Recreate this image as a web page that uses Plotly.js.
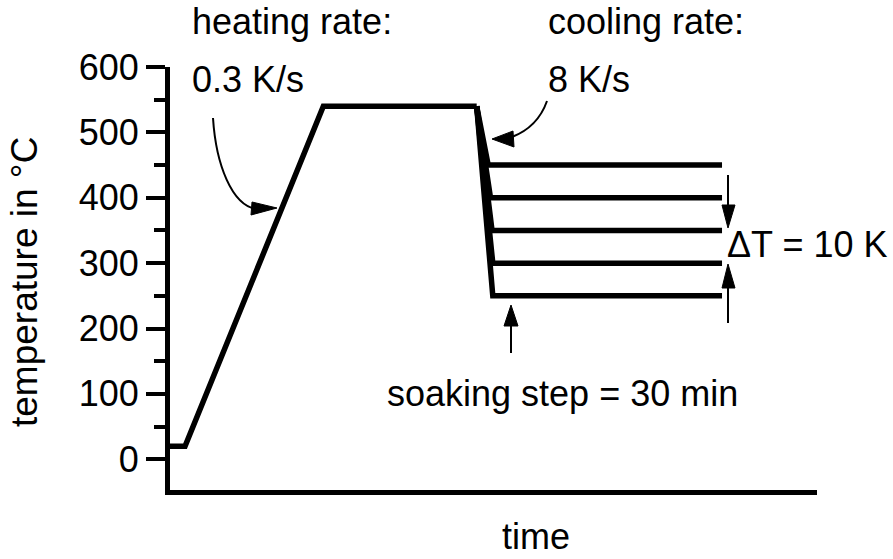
<!DOCTYPE html>
<html>
<head>
<meta charset="utf-8">
<script src="https://cdn.plot.ly/plotly-3.0.1.min.js"></script>
<style>
  html, body { margin: 0; padding: 0; background: #fff; }
  #plot { width: 893px; height: 559px; }
</style>
</head>
<body>
<div id="plot"></div>
<script>
// Heating ramp: time in min, temperature in °C
const heatTime = [0, 1.96, 20.0, 40.0];
const heatTemp = [20, 20, 540, 540];

// Cooling to the soaking temperatures, then hold
const soakTemps = [450, 400, 350, 300, 250];
const dropTime = [41.5, 41.8, 42.0, 42.1, 42.1];
const soakEnd = 72.0;

// Axis ticks
const yTicks = [0, 100, 200, 300, 400, 500, 600];

const FONT = 'Arial, "Liberation Sans", sans-serif';

// Plot box in pixels (used only to place the decorations)
const L = 170, T = 67, R = 76, B = 69;
const W = 893 - L - R, H = 559 - T - B;
const xRange = [0, W / 7.667];
const yRange = [-47, 600];
const pxPerMin = 7.667, pxPerDeg = H / (yRange[1] - yRange[0]);

// Convert a pixel position into data coordinates
const dx = px => (px - L) / pxPerMin;
const dy = py => yRange[1] - (py - T) / pxPerDeg;
const path = pts => pts.map((p, i) => (i ? 'L' : 'M') + dx(p[0]) + ',' + dy(p[1])).join(' ');
const curve = (a, c1, c2, b) =>
    'M' + dx(a[0]) + ',' + dy(a[1]) + ' C' + dx(c1[0]) + ',' + dy(c1[1]) + ' ' +
    dx(c2[0]) + ',' + dy(c2[1]) + ' ' + dx(b[0]) + ',' + dy(b[1]);

const lineStyle = { color: '#000', width: 5.5 };

// Build the traces
const traces = [{ x: heatTime, y: heatTemp, mode: 'lines', line: lineStyle }];
soakTemps.forEach((t, i) => {
    traces.push({
        x: [heatTime[3], dropTime[i], soakEnd],
        y: [heatTemp[3], t, t],
        mode: 'lines', line: lineStyle
    });
});

// Arrows: thin shafts + filled heads
const thin = { color: '#000', width: 2 };
const head = pts => ({ type: 'path', path: path(pts) + ' Z',
    fillcolor: '#000', line: { color: '#000', width: 1 } });
const shapes = [
    { type: 'path', path: curve([213, 118], [216, 165], [232, 205], [256, 209]), line: thin },
    head([[277, 208], [252, 202], [251, 215]]),
    { type: 'path', path: curve([547, 101], [541, 118], [530, 130], [512, 137]), line: thin },
    head([[492, 139], [513, 131], [514, 147]]),
    { type: 'path', path: path([[511, 353], [511, 322]]), line: thin },
    head([[511, 305], [504, 326], [518, 326]]),
    { type: 'path', path: path([[728, 175], [728, 208]]), line: thin },
    head([[728, 228], [722, 205], [735, 205]]),
    { type: 'path', path: path([[728, 323], [728, 285]]), line: thin },
    head([[728, 264], [722, 288], [735, 288]])
].map(s => Object.assign({ xref: 'x', yref: 'y' }, s));

// Text labels, placed in paper coordinates so they may sit outside the axes
const txt = (text, px, py, anchor, extra) => Object.assign({
    text: text, x: (px - L) / W, y: 1 - (py - T) / H, xref: 'paper', yref: 'paper',
    xanchor: anchor, yanchor: 'middle', showarrow: false,
    font: { family: FONT, size: 36, color: '#000' }
}, extra || {});

const annotations = [
    txt('heating rate:', 190, 22, 'left'),
    txt('0.3 K/s', 190, 79, 'left'),
    txt('cooling rate:', 546, 22, 'left'),
    txt('8 K/s', 546, 79, 'left'),
    txt('\u0394T = 10 K', 725, 245, 'left'),
    txt('soaking step = 30 min', 562, 393, 'center'),
    txt('time', 536, 536, 'center'),
    txt('temperature in \u00b0C', 24, 282, 'center', { textangle: -90, font: { family: FONT, size: 37, color: '#000' } })
];

Plotly.newPlot('plot', traces, {
    width: 893, height: 559,
    margin: { l: L, r: R, t: T, b: B },
    showlegend: false,
    plot_bgcolor: '#fff',
    paper_bgcolor: '#fff',
    xaxis: {
        range: xRange, showline: true, linecolor: '#000', linewidth: 5,
        showgrid: false, zeroline: false, showticklabels: false, ticks: ''
    },
    yaxis: {
        range: yRange, showline: true, linecolor: '#000', linewidth: 5,
        showgrid: false, zeroline: false,
        tickmode: 'array', tickvals: yTicks, ticks: 'outside', ticklen: 19, tickwidth: 4,
        tickcolor: '#000', ticklabelstandoff: 0,
        tickfont: { family: FONT, size: 36, color: '#000' },
        minor: { ticks: 'outside', dtick: 50, tick0: 50, ticklen: 11, tickwidth: 4, tickcolor: '#000' }
    },
    shapes: shapes,
    annotations: annotations
}, { staticPlot: true });
</script>
</body>
</html>
